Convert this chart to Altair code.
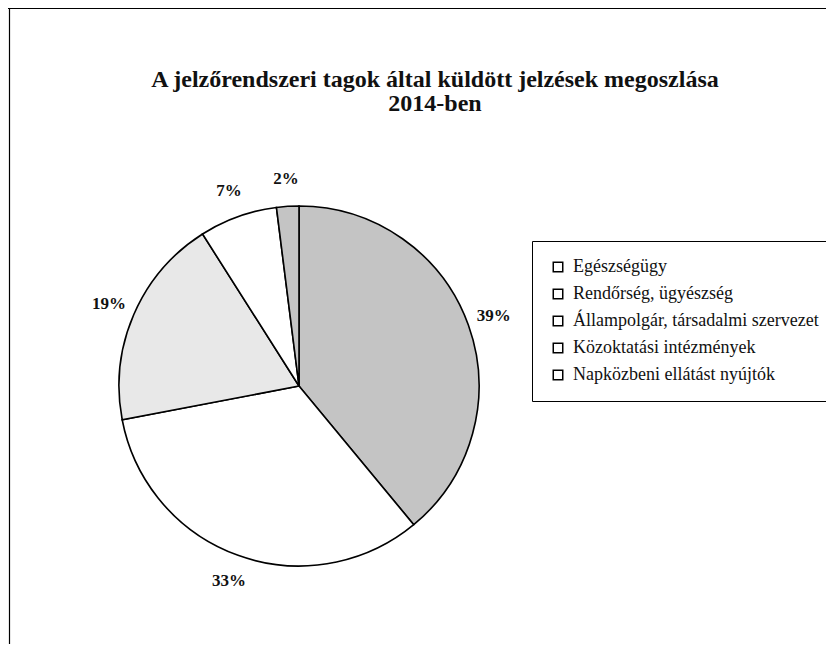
import altair as alt
import pandas as pd

categories = [
    "Egészségügy",
    "Rendőrség, ügyészség",
    "Állampolgár, társadalmi szervezet",
    "Közoktatási intézmények",
    "Napközbeni ellátást nyújtók",
]
values = [39, 33, 19, 7, 2]
labels = ["39%", "33%", "19%", "7%", "2%"]
fills = ["#c4c4c4", "#ffffff", "#e8e8e8", "#ffffff", "#c4c4c4"]

title_lines = ["A jelzőrendszeri tagok által küldött jelzések megoszlása", "2014-ben"]

df = pd.DataFrame({
    "category": categories,
    "value": values,
    "label": labels,
    "fill": fills,
    "idx": list(range(len(categories))),
})

W, H = 818, 636
CX, CY, R = 291, 378, 180

base = alt.Chart(df).encode(
    theta=alt.Theta("value:Q", stack=True),
    order=alt.Order("idx:Q"),
    x=alt.value(CX),
    y=alt.value(CY),
)

legend_layer = alt.Chart(df).mark_point(
    size=90, color="black", filled=False, strokeWidth=1.5, opacity=1
).encode(
    x=alt.value(CX),
    y=alt.value(CY),
    shape=alt.Shape(
        "category:N",
        scale=alt.Scale(domain=categories, range=["square"] * 5),
        legend=alt.Legend(
            title=None,
            orient="none",
            legendX=524,
            legendY=233,
            direction="vertical",
            strokeColor="black",
            padding=17,
            symbolSize=90,
            symbolOpacity=1,
            symbolFillColor="white",
            symbolStrokeColor="black",
            symbolStrokeWidth=1.5,
            labelFont="Liberation Serif",
            labelFontSize=18,
            labelColor="#111111",
            labelOffset=6,
            labelLimit=400,
            rowPadding=9,
        ),
    ),
)

arcs = base.mark_arc(outerRadius=R, stroke="black", strokeWidth=1.6).encode(
    fill=alt.Fill("fill:N", scale=None),
)

texts = base.mark_text(
    radius=207, font="Liberation Serif", fontSize=17, fontWeight="bold", color="#111111"
).encode(text="label:N")

frame_df = pd.DataFrame({"k": [0]})
top_rule = alt.Chart(frame_df).mark_rule(color="black", strokeWidth=1.2).encode(
    x=alt.value(0), x2=alt.value(W), y=alt.value(0.5)
)
left_rule = alt.Chart(frame_df).mark_rule(color="black", strokeWidth=1.2).encode(
    x=alt.value(1.5), y=alt.value(0), y2=alt.value(H)
)

chart = alt.layer(legend_layer, arcs, texts, top_rule, left_rule).properties(
    width=W,
    height=H,
    autosize=alt.AutoSizeParams(type="none"),
    padding=0,
    title=alt.Title(
        text=title_lines,
        font="Liberation Serif",
        fontSize=24,
        fontWeight="bold",
        lineHeight=24,
        color="#111111",
        anchor="middle",
        baseline="top",
        offset=0,
        dx=18,
        dy=109,
    ),
).configure_view(stroke=None)

chart.save("out.html", embed_options={"renderer": "svg", "actions": False})
